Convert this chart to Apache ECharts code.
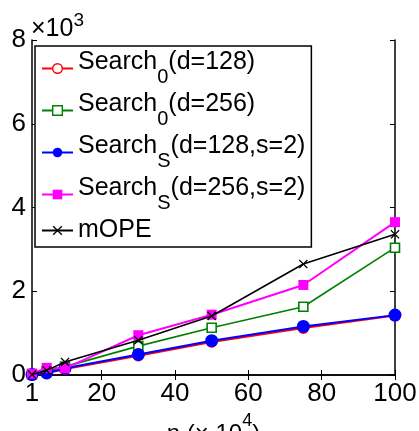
<!DOCTYPE html>
<html>
<head>
<meta charset="utf-8">
<script src="https://cdn.jsdelivr.net/npm/echarts@6/dist/echarts.min.js"></script>
<style>
  html, body { margin: 0; padding: 0; background: #fff; }
  #chart { width: 419px; height: 431px; }
</style>
</head>
<body>
<div id="chart"></div>
<script>
// Problem size n (in units of 10^4)
const nValues = [1, 5, 10, 30, 50, 75, 100];

// Measured times (plotted in units of 10^3 on the y axis)
const search0d128 = [10, 40, 140, 460, 790, 1120, 1420];
const search0d256 = [20, 90, 200, 690, 1130, 1630, 3040];
const searchSd128 = [10, 50, 160, 490, 820, 1160, 1430];
const searchSd256 = [30, 170, 160, 950, 1440, 2150, 3650];
const mope        = [10, 110, 310, 830, 1410, 2650, 3360];

// Legend text pieces: base name, subscript, parameters
const nameBase  = ['Search', 'Search', 'Search', 'Search', 'mOPE'];
const nameSub   = ['0', '0', 'S', 'S', ''];
const nameParam = ['(d=128)', '(d=256)', '(d=128,s=2)', '(d=256,s=2)', ''];

const xTicks = [1, 20, 40, 60, 80, 100];
const yMin = 0, yMax = 8000, yStep = 2000;

const FONT = 'Liberation Sans';
const seriesNames = nameBase.map((b, i) => b + nameSub[i] + nameParam[i]);

const crossPath = 'path://M0,1L1,0L5,4L9,0L10,1L6,5L10,9L9,10L5,6L1,10L0,9L4,5Z';

const styles = [
  { data: search0d128, color: '#ff0000', symbol: 'circle', size: 10, open: true,  width: 2 },
  { data: search0d256, color: '#008000', symbol: 'rect',   size: 9,  open: true,  width: 1.6 },
  { data: searchSd128, color: '#0000ff', symbol: 'circle', size: 13, open: false, width: 2 },
  { data: searchSd256, color: '#ff00ff', symbol: 'rect',   size: 10, open: false, width: 2 },
  { data: mope,        color: '#000000', symbol: crossPath, size: 9, open: false, width: 1.6 }
];

const series = styles.map((s, i) => ({
  type: 'line',
  name: seriesNames[i],
  xAxisIndex: 0,
  yAxisIndex: 0,
  data: nValues.map((n, k) => [n, s.data[k]]),
  symbol: s.symbol,
  symbolSize: s.size,
  showAllSymbol: true,
  lineStyle: { color: s.color, width: s.width },
  itemStyle: s.open
    ? { color: '#ffffff', borderColor: s.color, borderWidth: 1.6 }
    : { color: s.color, borderWidth: 0 },
  emphasis: { disabled: true },
  z: 2 + i
}));

const legendData = styles.map((s, i) => ({
  name: seriesNames[i],
  itemStyle: s.open
    ? { color: '#ffffff', borderColor: s.color, borderWidth: 1.4 }
    : { color: s.color, borderWidth: 0 },
  lineStyle: { color: s.color, width: 2 }
}));

// Subscripts: both tokens share one line height; padding pushes the small one down
const legendRich = {
  m: { fontFamily: FONT, fontSize: 25, lineHeight: 25, padding: [0, 0, 12, 0], color: '#000' },
  s: { fontFamily: FONT, fontSize: 20, lineHeight: 20, padding: [17, 0, 0, 0], color: '#000' },
  p: { fontFamily: FONT, fontSize: 25, lineHeight: 25, color: '#000' }
};

function legendFormatter(name) {
  const i = seriesNames.indexOf(name);
  if (!nameSub[i]) return '{p|' + nameBase[i] + '}';
  return '{m|' + nameBase[i] + '}{s|' + nameSub[i] + '}{m|' + nameParam[i] + '}';
}

const boxAxisLine = { show: true, lineStyle: { color: '#000', width: 1.5 } };
const boxTick = { show: true, inside: true, length: 5, lineStyle: { color: '#000', width: 1 } };

const option = {
  animation: false,
  backgroundColor: '#fff',
  grid: { left: 32, right: 24, top: 40, bottom: 56, containLabel: false, outerBoundsMode: 'none' },
  xAxis: [
    {
      type: 'value', position: 'bottom', min: 1, max: 100,
      axisLine: boxAxisLine,
      axisTick: Object.assign({ customValues: xTicks }, boxTick),
      axisLabel: { customValues: xTicks, margin: 6, fontFamily: FONT, fontSize: 26, color: '#000' },
      splitLine: { show: false },
      name: '{a|n (× 10}{b|4}{a|)}',
      nameLocation: 'middle',
      nameGap: 33,
      nameTextStyle: {
        fontFamily: FONT, color: '#000',
        rich: {
          a: { fontFamily: FONT, fontSize: 24, lineHeight: 24, padding: [10, 0, 0, 0], color: '#000' },
          b: { fontFamily: FONT, fontSize: 18, lineHeight: 18, padding: [0, 0, 16, 0], color: '#000' }
        }
      }
    },
    {
      type: 'value', position: 'top', min: 1, max: 100,
      axisLine: boxAxisLine,
      axisTick: Object.assign({ customValues: xTicks }, boxTick),
      axisLabel: { show: false },
      splitLine: { show: false }
    }
  ],
  yAxis: [
    {
      type: 'value', position: 'left', min: yMin, max: yMax, interval: yStep,
      axisLine: boxAxisLine,
      axisTick: boxTick,
      axisLabel: {
        margin: 6, fontFamily: FONT, fontSize: 26, color: '#000',
        formatter: v => String(v / 1000)
      },
      splitLine: { show: false }
    },
    {
      type: 'value', position: 'right', min: yMin, max: yMax, interval: yStep,
      axisLine: boxAxisLine,
      axisTick: boxTick,
      axisLabel: { show: false },
      splitLine: { show: false }
    }
  ],
  legend: {
    orient: 'vertical',
    left: 35, top: 46,
    padding: [4, 6, 4, 6],
    itemGap: 5,
    itemWidth: 31,
    itemHeight: 12,
    backgroundColor: '#fff',
    borderColor: '#000',
    borderWidth: 1.5,
    borderRadius: 0,
    selectedMode: false,
    data: legendData,
    formatter: legendFormatter,
    textStyle: { fontFamily: FONT, fontSize: 25, color: '#000', rich: legendRich },
    z: 20
  },
  graphic: [
    {
      type: 'text',
      left: 31, top: 11,
      style: {
        text: '{a|×10}{b|3}',
        fill: '#000',
        rich: {
          a: { fontFamily: FONT, fontSize: 25, lineHeight: 25, padding: [5.5, 0, 0, 0], fill: '#000' },
          b: { fontFamily: FONT, fontSize: 19, lineHeight: 19, padding: [0, 0, 11.5, 0], fill: '#000' }
        }
      }
    }
  ],
  series: series
};

const chart = echarts.init(document.getElementById('chart'), null, { renderer: 'canvas' });
chart.setOption(option);
</script>
</body>
</html>
